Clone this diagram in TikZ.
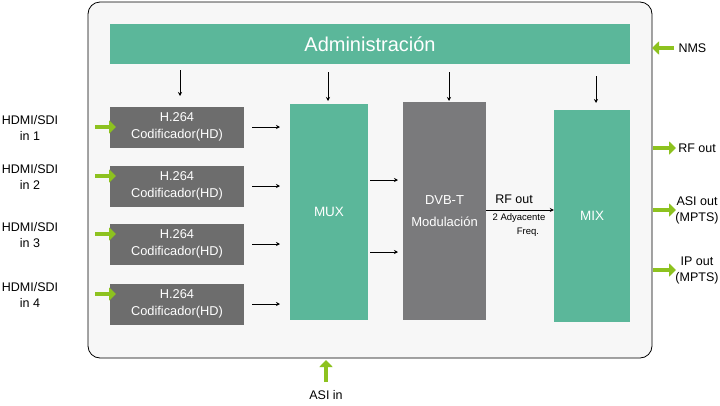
\documentclass[tikz,border=0pt]{standalone}
\usepackage{fontspec}
\setmainfont{Liberation Sans}
\usetikzlibrary{arrows.meta}
\definecolor{gr}{HTML}{5BB79A}
\definecolor{enc}{HTML}{6D6D6D}
\definecolor{dvb}{HTML}{7A7A7C}
\definecolor{lime}{HTML}{8DC21F}
\begin{document}
\begin{tikzpicture}[x=1pt,y=-1pt,
  gbox/.style={fill=gr,draw=none,text=white},
  ebox/.style={fill=enc,draw=none,text=white,align=center,font=\fontsize{12.8}{17}\selectfont},
  arr/.style={-{Stealth[length=4pt,width=4pt]},line width=0.7pt},
  big/.style={draw=lime,line width=4.5pt,-{Triangle[length=7pt,width=13pt]}},
  lab/.style={align=center,font=\fontsize{12.5}{16}\selectfont}]
\useasboundingbox (0,0) rectangle (720,405);
\fill[white] (0,0) rectangle (720,405);
\draw[fill={rgb,255:red,247;green,247;blue,247},line width=0.8pt,rounded corners=12pt] (88,2) rectangle (652,358);
\node[gbox,minimum width=520pt,minimum height=40pt,font=\fontsize{20}{22}\selectfont] (adm) at (370,44) {Administración};
\foreach \i/\y in {1/127,2/186,3/244,4/304}{
  \node[ebox,minimum width=134pt,minimum height=41pt] (e\i) at (177,\y) {H.264\\Codificador(HD)};
  \coordinate (ea\i) at (252,\y);
  \coordinate (eb\i) at (280,\y);
  \draw[arr] (ea\i) -- (eb\i);
}
\node[gbox,minimum width=78pt,minimum height=216pt,font=\fontsize{13.5}{16}\selectfont] (mux) at (329,212) {MUX};
\node[fill=dvb,text=white,minimum width=83pt,minimum height=218pt,align=center,font=\fontsize{13}{22}\selectfont] (dvb) at (444.5,211) {DVB-T\\Modulación};
\node[gbox,minimum width=76pt,minimum height=212pt,font=\fontsize{13.5}{16}\selectfont] (mix) at (592,216) {MIX};
\foreach \x/\a/\b in {180/70/96,328/72/101,449/72/101,596/76/103}{
  \coordinate (d1) at (\x,\a); \coordinate (d2) at (\x,\b);
  \draw[arr] (d1) -- (d2);
}
\foreach \y in {180,252}{
  \coordinate (m1) at (370,\y); \coordinate (m2) at (398,\y);
  \draw[arr] (m1) -- (m2);
}
\draw[arr] (dvb.east |- 0,210) -- (mix.west |- 0,210);
\node[font=\fontsize{12.5}{15}\selectfont] (rfl) at (514,199) {RF out};
\node[font=\fontsize{9.5}{12}\selectfont] (adj) at (519,218) {2 Adyacente};
\node[font=\fontsize{9.5}{12}\selectfont] (frq) at (528,232) {Freq.};
\foreach \i/\y in {1/127,2/176,3/234,4/294}{
  \coordinate (i\i a) at (95,\y); \coordinate (i\i b) at (116,\y);
  \draw[big] (i\i a) -- (i\i b);
  \node[lab] (il\i) at (30,\y+1) {HDMI/SDI\\in \i};
}
\coordinate (n1) at (674,48); \coordinate (n2) at (652,48);
\draw[big] (n1) -- (n2);
\node[lab,anchor=west] (nms) at (675,48) {NMS};
\foreach \n/\y/\t in {r/148/RF out,a/210/ASI out\\(MPTS),p/270/IP out\\(MPTS)}{
  \coordinate (o\n1) at (653,\y); \coordinate (o\n2) at (676,\y);
  \draw[big] (o\n1) -- (o\n2);
  \node[lab] (ol\n) at (697,\y) {\t};
}
\coordinate (s1) at (326,382); \coordinate (s2) at (326,360);
\draw[big] (s1) -- (s2);
\node[lab] (asi) at (326,395) {ASI in};
\end{tikzpicture}
\end{document}
